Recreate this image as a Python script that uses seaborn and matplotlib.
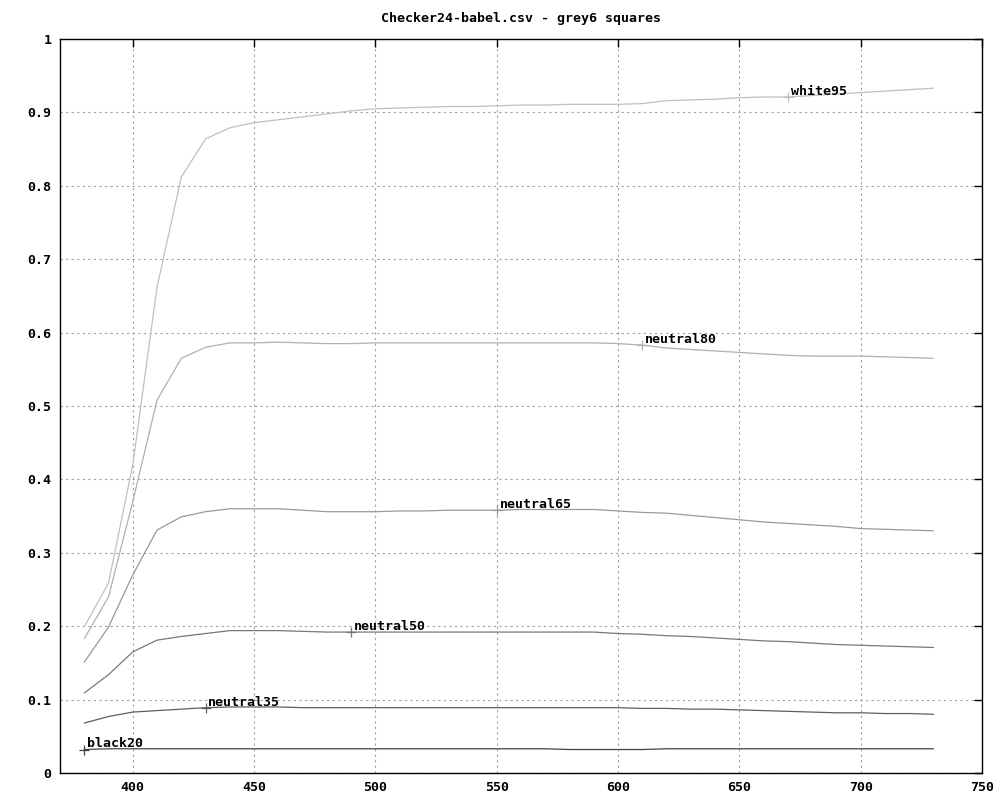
import matplotlib
matplotlib.use("Agg")
import matplotlib.pyplot as plt
import seaborn as sns
import numpy as np
import pandas as pd

# wavelengths (nm)
wavelengths = [380, 390, 400, 410, 420, 430, 440, 450, 460, 470, 480, 490,
               500, 510, 520, 530, 540, 550, 560, 570, 580, 590, 600, 610,
               620, 630, 640, 650, 660, 670, 680, 690, 700, 710, 720, 730]

white95 = [0.199, 0.259, 0.420, 0.662, 0.812, 0.864, 0.879, 0.886, 0.890, 0.894,
           0.898, 0.902, 0.905, 0.906, 0.907, 0.908, 0.908, 0.909, 0.910, 0.910,
           0.911, 0.911, 0.911, 0.912, 0.916, 0.917, 0.918, 0.920, 0.921, 0.921,
           0.923, 0.925, 0.927, 0.929, 0.931, 0.933]
neutral80 = [0.183, 0.240, 0.370, 0.508, 0.565, 0.580, 0.586, 0.586, 0.587, 0.586,
             0.585, 0.585, 0.586, 0.586, 0.586, 0.586, 0.586, 0.586, 0.586, 0.586,
             0.586, 0.586, 0.585, 0.583, 0.579, 0.577, 0.575, 0.573, 0.571, 0.569,
             0.568, 0.568, 0.568, 0.567, 0.566, 0.565]
neutral65 = [0.151, 0.199, 0.270, 0.331, 0.349, 0.356, 0.360, 0.360, 0.360, 0.358,
             0.356, 0.356, 0.356, 0.357, 0.357, 0.358, 0.358, 0.358, 0.359, 0.359,
             0.359, 0.359, 0.357, 0.355, 0.354, 0.351, 0.348, 0.345, 0.342, 0.340,
             0.338, 0.336, 0.333, 0.332, 0.331, 0.330]
neutral50 = [0.109, 0.134, 0.165, 0.181, 0.186, 0.190, 0.194, 0.194, 0.194, 0.193,
             0.192, 0.192, 0.192, 0.192, 0.192, 0.192, 0.192, 0.192, 0.192, 0.192,
             0.192, 0.192, 0.190, 0.189, 0.187, 0.186, 0.184, 0.182, 0.180, 0.179,
             0.177, 0.175, 0.174, 0.173, 0.172, 0.171]
neutral35 = [0.068, 0.077, 0.083, 0.085, 0.087, 0.089, 0.090, 0.090, 0.090, 0.089,
             0.089, 0.089, 0.089, 0.089, 0.089, 0.089, 0.089, 0.089, 0.089, 0.089,
             0.089, 0.089, 0.089, 0.088, 0.088, 0.087, 0.087, 0.086, 0.085, 0.084,
             0.083, 0.082, 0.082, 0.081, 0.081, 0.080]
black20 = [0.032, 0.033, 0.033, 0.033, 0.033, 0.033, 0.033, 0.033, 0.033, 0.033,
           0.033, 0.033, 0.033, 0.033, 0.033, 0.033, 0.033, 0.033, 0.033, 0.033,
           0.032, 0.032, 0.032, 0.032, 0.033, 0.033, 0.033, 0.033, 0.033, 0.033,
           0.033, 0.033, 0.033, 0.033, 0.033, 0.033]

names = ["black20", "neutral35", "neutral50", "neutral65", "neutral80", "white95"]
series = [black20, neutral35, neutral50, neutral65, neutral80, white95]
colors = ["#444444", "#5e5e5e", "#777777", "#999999", "#b0b0b0", "#c0c0c0"]
label_at = [380, 430, 490, 550, 610, 670]

df = pd.DataFrame({
    "wavelength": wavelengths * len(names),
    "value": sum(series, []),
    "square": [n for n in names for _ in wavelengths],
})

sns.set_style("white")
plt.rcParams['font.family'] = ['DejaVu Sans Mono']
plt.rcParams['font.weight'] = 'bold'
plt.rcParams['text.color'] = 'black'

fig = plt.figure(figsize=(10, 8), dpi=100)
ax = fig.add_axes([0.06, 0.03375, 0.922, 0.9175])

sns.lineplot(data=df, x="wavelength", y="value", hue="square",
             palette=dict(zip(names, colors)), linewidth=0.9,
             legend=False, ax=ax, zorder=3)

# point labels, gnuplot style
for name, vals, col, wl in zip(names, series, colors, label_at):
    y = vals[wavelengths.index(wl)]
    ax.plot([wl], [y], marker='+', markersize=7, color=col,
            markeredgewidth=0.9, zorder=4)
    ax.annotate(name, (wl, y), xytext=(2, 4), textcoords='offset points',
                fontsize=9.5, fontweight='bold', color='black',
                ha='left', va='center', zorder=5)

ax.set_xlim(370, 750)
ax.set_ylim(0, 1)
ax.set_xticks(np.arange(400, 751, 50))
ax.set_yticks(np.arange(0, 1.01, 0.1))
ax.set_yticklabels(["0", "0.1", "0.2", "0.3", "0.4", "0.5", "0.6", "0.7", "0.8", "0.9", "1"])
ax.grid(True, linestyle=(0, (2, 3)), color='#a0a0a0', linewidth=0.8)
ax.tick_params(direction='in', length=6, width=1, top=True, right=True,
               labelsize=9.5, pad=6, colors='black', labelcolor='black')
for t in ax.get_xticklabels() + ax.get_yticklabels():
    t.set_fontweight('bold')
for s in ax.spines.values():
    s.set_color('black')
    s.set_linewidth(1)
ax.set_xlabel("")
ax.set_ylabel("")
ax.set_title("Checker24-babel.csv - grey6 squares", fontsize=9.5,
             fontweight='bold', color='black', pad=12)

fig.savefig("out.png", dpi=100)
